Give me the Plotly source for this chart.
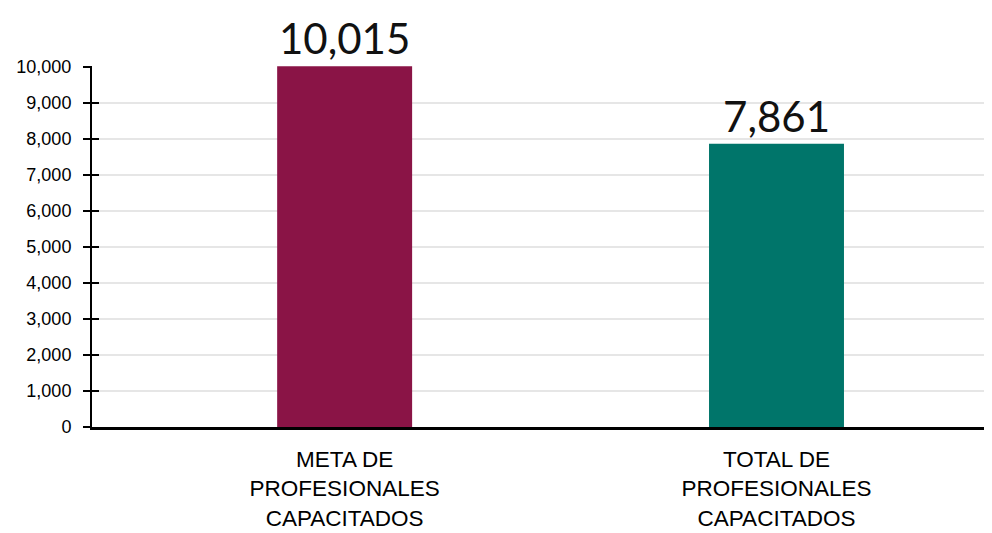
import plotly.graph_objects as go

categories = ["META DE<br>PROFESIONALES<br>CAPACITADOS", "TOTAL DE<br>PROFESIONALES<br>CAPACITADOS"]
values = [10015, 7861]
bar_colors = ["#8A1446", "#00756A"]
y_ticks = [0, 1000, 2000, 3000, 4000, 5000, 6000, 7000, 8000, 9000, 10000]

fig = go.Figure()
fig.add_trace(
    go.Bar(
        x=[0, 1],
        y=values,
        marker=dict(color=bar_colors, line=dict(width=0)),
        width=0.3125,
        text=[f"{v:,}" for v in values],
        textposition="outside",
        textfont=dict(family="Lato", size=42, color="#111111"),
        cliponaxis=False,
        hoverinfo="skip",
    )
)
# invisible copy on an overlay axis so its inner half of the ticks gets drawn
fig.add_trace(
    go.Scatter(
        x=[0, 1], y=values, yaxis="y2", mode="markers",
        marker=dict(size=1, opacity=0), hoverinfo="skip",
    )
)

y_range = [0, 10020]

fig.update_layout(
    width=984,
    height=525,
    margin=dict(l=84, r=0, t=58, b=106),
    paper_bgcolor="white",
    plot_bgcolor="white",
    showlegend=False,
    xaxis=dict(
        range=[-0.585, 1.499],
        tickmode="array",
        tickvals=[0, 1],
        ticktext=categories,
        tickfont=dict(family="Liberation Sans, Arial", size=22.5, color="#000000"),
        ticklabelstandoff=10,
        showgrid=False,
        zeroline=False,
        showline=True,
        linecolor="#000000",
        linewidth=3,
        ticks="",
    ),
    yaxis=dict(
        range=y_range,
        tickmode="array",
        tickvals=y_ticks,
        tickformat=",",
        tickfont=dict(family="Liberation Sans, Arial", size=18, color="#000000"),
        ticklabelstandoff=8,
        showgrid=True,
        gridcolor="#E6E6E6",
        gridwidth=2,
        zeroline=False,
        showline=True,
        linecolor="#000000",
        linewidth=2,
        ticks="outside",
        ticklen=7,
        tickwidth=2,
        tickcolor="#000000",
    ),
    yaxis2=dict(
        overlaying="y",
        anchor="x",
        side="left",
        range=y_range,
        tickmode="array",
        tickvals=y_ticks,
        showticklabels=False,
        showgrid=False,
        zeroline=False,
        showline=False,
        ticks="inside",
        ticklen=7,
        tickwidth=2,
        tickcolor="#000000",
    ),
)

fig.write_html("out.html")
